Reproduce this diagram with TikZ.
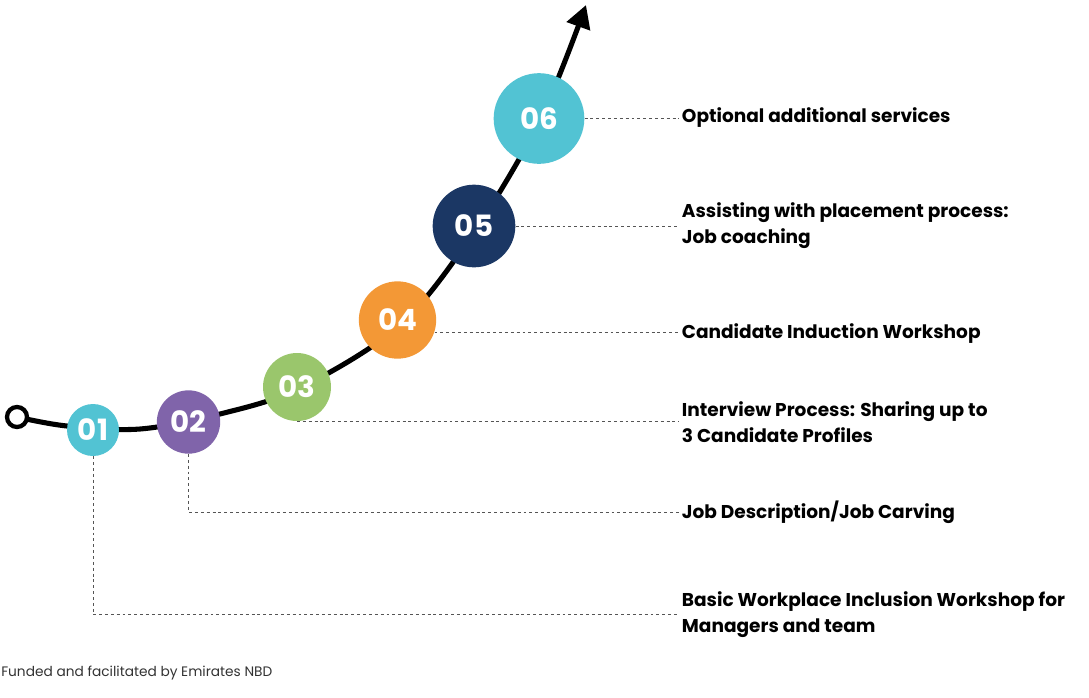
\documentclass[tikz,border=0pt]{standalone}
\usepackage{fontspec}
\setmainfont{Poppins}
\usetikzlibrary{arrows.meta}
\definecolor{cyanA}{HTML}{52C3D3}
\definecolor{purpleB}{HTML}{8064AA}
\definecolor{greenC}{HTML}{9AC66C}
\definecolor{orangeD}{HTML}{F39836}
\definecolor{navyE}{HTML}{1B3764}
\definecolor{dashgray}{HTML}{555555}
\definecolor{footgray}{HTML}{333333}
\tikzset{
  stepcircle/.style={circle, inner sep=0pt, text=white, font=\fontsize{22}{22}\selectfont\bfseries},
  steplabel/.style={anchor=west, inner sep=2pt, align=left, text=black, font=\fontsize{13.9}{19.5}\selectfont\bfseries},
  leader/.style={draw=dashgray, line width=0.75pt, dash pattern=on 2.2pt off 2.2pt},
  mainline/.style={line width=3.8pt, line cap=round},
}
\begin{document}
\begin{tikzpicture}[x=0.75pt,y=-0.75pt]
\useasboundingbox (0,0) rectangle (1089,697);
% main curve
\coordinate (p0) at (17,417);
\coordinate (p1) at (67,426);
\coordinate (p2) at (140,429);
\coordinate (p3) at (220,414);
\coordinate (p4) at (300,388);
\coordinate (p5) at (400,325);
\coordinate (p6) at (474,232);
\coordinate (p7) at (540,120);
\coordinate (tip) at (586,5);
\draw[mainline, -{Triangle[length=17pt,width=18pt]}] plot[smooth, tension=0.55] coordinates {(p0) (p1) (p2) (p3) (p4) (p5) (p6) (p7) (tip)};
\node[circle, draw=black, line width=3.2pt, fill=white, minimum size=15pt, inner sep=0pt] (start) at (p0) {};
% step circles
\node[stepcircle, fill=cyanA, minimum size=39pt] (n1) at (93,430) {01};
\node[stepcircle, fill=purpleB, minimum size=47.5pt] (n2) at (188.5,422) {02};
\node[stepcircle, fill=greenC, minimum size=51pt] (n3) at (297,387) {03};
\node[stepcircle, fill=orangeD, minimum size=58pt] (n4) at (397.5,320) {04};
\node[stepcircle, fill=navyE, minimum size=62pt] (n5) at (474,226) {05};
\node[stepcircle, fill=cyanA, minimum size=68pt] (n6) at (539,118.5) {06};
% labels
\node[steplabel] (l6) at (679,118) {Optional additional services};
\node[steplabel] (l5) at (679,225.5) {Assisting with placement process:\\Job coaching};
\node[steplabel] (l4) at (679,334) {Candidate Induction Workshop};
\node[steplabel] (l3) at (679,422.5) {Interview Process: Sharing up to\\3 Candidate Profiles};
\node[steplabel] (l2) at (679,512) {Job Description/Job Carving};
\node[steplabel] (l1) at (679,614.5) {Basic Workplace Inclusion Workshop for\\Managers and team};
% leaders
\draw[leader] (n6.east) -- (n6.east -| l6.west);
\draw[leader] (n5.east) -- (n5.east -| l5.west);
\draw[leader] (n4.-18) -- (n4.-18 -| l4.west);
\draw[leader] (n3.south) -- (n3.south -| l3.west);
\draw[leader] (n2.south) |- (l2.west);
\draw[leader] (n1.south) |- (l1.west);
% footnote
\node[anchor=west, inner sep=0pt, text=footgray, font=\fontsize{10.3}{10.3}\selectfont] (foot) at (1,673) {Funded and facilitated by Emirates NBD};
\end{tikzpicture}
\end{document}
